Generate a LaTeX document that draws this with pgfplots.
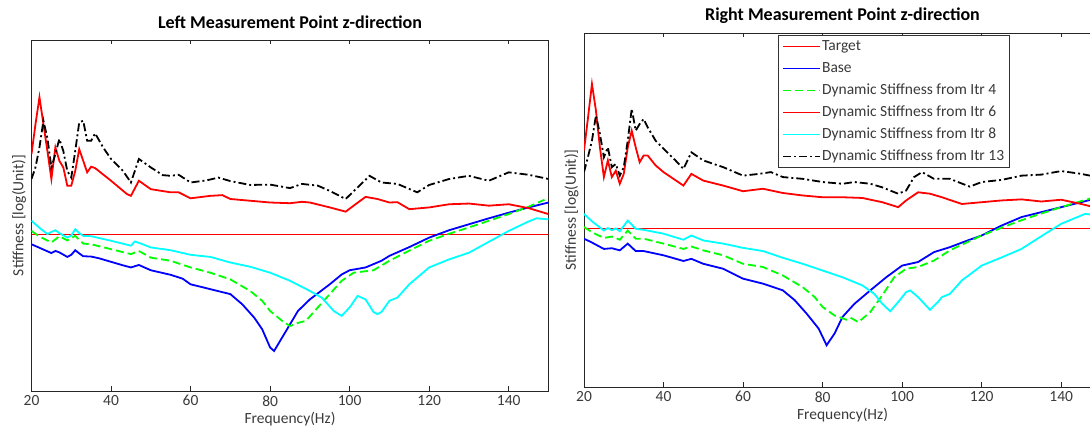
\documentclass[border=0pt]{standalone}
\usepackage{fontspec}
\setmainfont{Carlito}
\usepackage{pgfplots}
\pgfplotsset{compat=1.18}
\definecolor{lbl}{HTML}{3A3A3A}
\definecolor{cR}{RGB}{255,0,0}
\definecolor{cB}{RGB}{0,0,255}
\definecolor{cG}{RGB}{0,255,0}
\definecolor{cC}{RGB}{0,255,255}
\definecolor{cK}{RGB}{0,0,0}
\pgfplotsset{
  myaxis/.style={
    scale only axis, width=517pt,
    xmin=20, xmax=150, ymin=0, ymax=100,
    xtick={20,40,...,140}, ytick=\empty,
    tick align=inside, major tick length=4.5pt,
    axis line style={black!85, line width=0.8pt},
    every tick/.style={black!85, line width=0.8pt},
    /pgf/number format/assume math mode=true,
    tick label style={font=\fontsize{15.5}{18}\selectfont, text=lbl},
    xticklabel style={yshift=-1pt},
    label style={font=\fontsize{15.5}{18}\selectfont, text=lbl},
    xlabel={Frequency(Hz)},
    ylabel={Stiffness [log(Unit)]},
    xlabel style={yshift=1pt},
    ylabel style={yshift=2pt},
    title style={font=\bfseries\fontsize{18}{20}\selectfont, yshift=2pt},
    clip=true,
    legend image code/.code={\draw[#1] (0pt,0pt) -- (37pt,0pt);},
  },
  tgt/.style={draw=cR, color=cR, line width=1.2pt},
  base/.style={cB, line width=1.8pt},
  it4/.style={cG, line width=1.8pt, dash pattern=on 8pt off 4pt},
  it6/.style={cR, line width=1.8pt},
  it8/.style={cC, line width=1.8pt},
  it13/.style={cK, line width=1.8pt, dash pattern=on 8pt off 3pt on 2pt off 3pt},
}
\begin{document}
\begin{tikzpicture}[x=1pt,y=1pt]
% ---------------- Left ----------------
\begin{axis}[myaxis, at={(31.5pt,42pt)}, anchor=south west, height=351pt,
  title={Left Measurement Point z-direction}]
\addplot[tgt] coordinates {(20,44.6)(150,44.6)};
\addplot[base] coordinates {(20,41.8)(22,40.8)(24,39.8)(25,39.3)(26,39.9)(27,39.5)(29,38.2)(30,38.8)(31,40.1)(32,39.2)(33,38.4)(35,38.3)(37,37.8)(40,36.8)(43,35.8)(45,35.2)(47,35.9)(50,34.4)(55,33.1)(58,32.0)(60,30.4)(65,29.0)(70,27.6)(73,24.7)(76,20.9)(78,17.6)(80,12.4)(81,11.4)(83,15.2)(85,19.0)(87,22.8)(90,26.1)(95,30.4)(98,33.2)(100,34.4)(104,35.2)(108,37.1)(110,38.5)(115,41.0)(120,43.7)(125,45.8)(130,47.5)(135,49.2)(140,50.8)(145,52.3)(150,53.7)};
\addplot[it4] coordinates {(20,45.6)(22,44.0)(25,42.3)(27,44.1)(29,42.9)(31,44.2)(33,42.0)(35,41.8)(40,40.4)(45,39.0)(47,39.9)(50,38.0)(55,37.1)(60,35.2)(65,33.7)(70,31.8)(75,28.5)(78,25.7)(80,22.8)(83,20.0)(85,18.5)(87,19.4)(89,20.0)(92,23.8)(95,27.6)(98,31.4)(101,33.7)(106,34.4)(110,37.1)(115,40.0)(120,42.8)(125,44.8)(130,46.6)(135,48.5)(140,50.4)(145,52.5)(149,54.5)};
\addplot[it6] coordinates {(20,67.5)(21,76.0)(22,83.7)(23,76.0)(24,68.4)(25,60.4)(26,69.4)(27,65.6)(28,63.7)(29,58.5)(30,58.5)(31,62.7)(32,68.9)(33,65.6)(34,62.3)(35,63.9)(36,63.5)(40,59.9)(44,56.1)(45,55.6)(47,59.9)(50,57.5)(55,56.6)(57,56.6)(60,54.9)(65,55.6)(68,55.8)(70,54.7)(75,54.2)(80,53.7)(85,53.5)(88,53.9)(90,53.7)(95,52.3)(99,51.1)(101,52.8)(104,55.3)(107,54.7)(110,53.7)(112,53.8)(115,51.8)(120,52.3)(125,53.2)(130,53.4)(135,52.8)(140,53.2)(145,52.1)(150,50.4)};
\addplot[it8] coordinates {(20,48.5)(22,46.5)(24,44.7)(25,45.3)(26,45.8)(27,45.0)(29,43.7)(30,44.3)(31,46.1)(32,45.0)(33,44.2)(35,44.1)(40,42.8)(45,41.4)(46,42.6)(48,41.8)(50,40.9)(55,40.1)(60,38.8)(65,38.2)(70,36.6)(75,35.4)(80,33.7)(85,31.4)(90,28.5)(93,26.6)(96,22.8)(98,21.4)(100,23.8)(102,27.1)(104,26.1)(106,22.5)(107,21.9)(108,22.5)(110,25.7)(112,26.6)(115,30.4)(120,35.2)(125,37.5)(130,39.4)(135,42.5)(140,45.6)(145,48.3)(147,49.2)(150,48.9)};
\addplot[it13] coordinates {(20,60.4)(21,63.7)(22,69.4)(23,77.0)(24,72.0)(25,63.7)(26,67.5)(27,71.8)(28,68.4)(29,62.7)(30,60.8)(31,68.4)(32,76.5)(33,77.0)(34,71.3)(35,71.3)(36,73.4)(38,69.4)(40,66.1)(43,62.7)(45,59.4)(47,66.1)(50,63.7)(53,61.5)(55,61.3)(57,61.6)(60,59.4)(64,60.0)(67,60.8)(70,59.8)(75,58.7)(80,58.8)(85,57.8)(88,59.0)(92,58.5)(95,57.0)(99,54.7)(102,58.0)(105,61.3)(108,59.4)(112,59.0)(117,56.6)(120,58.7)(125,60.4)(130,61.3)(135,59.9)(140,62.3)(145,61.6)(150,60.4)};
\end{axis}
% ---------------- Right ----------------
\begin{axis}[myaxis, at={(584pt,46pt)}, anchor=south west, height=354pt,
  title={Right Measurement Point z-direction},
  title style={yshift=-2pt},
  legend cell align=left,
  legend style={at={(0.375,0.994)}, anchor=north west, draw=black!80, line width=0.8pt,
    font=\fontsize{15.5}{18}\selectfont, text=lbl, inner xsep=4pt, inner ysep=2pt,
    row sep=4pt, nodes={inner sep=1pt, text height=12pt, text depth=4pt}}]
\addplot[tgt] coordinates {(20,44.7)(150,44.7)};
\addlegendentry{Target}
\addplot[base] coordinates {(20,41.9)(22,40.8)(25,39.0)(27,39.2)(29,38.6)(31,40.5)(33,38.4)(35,38.4)(40,37.2)(45,35.6)(47,36.2)(50,34.8)(55,33.4)(60,30.6)(65,29.2)(70,27.3)(73,24.5)(76,20.7)(79,16.5)(81,11.8)(83,15.1)(85,19.8)(88,23.5)(92,27.3)(96,31.0)(100,34.3)(104,35.3)(108,38.1)(112,39.5)(116,41.2)(120,42.8)(125,45.6)(130,48.0)(135,49.4)(140,50.8)(145,52.2)(150,53.6)};
\addlegendentry{Base}
\addplot[it4] coordinates {(20,45.2)(22,43.7)(25,42.1)(27,42.5)(29,41.6)(31,44.2)(33,41.9)(35,41.9)(40,40.5)(45,39.0)(47,39.7)(50,38.6)(55,37.2)(60,34.8)(65,33.9)(70,31.5)(75,28.2)(78,25.4)(80,22.6)(83,20.2)(86,19.0)(87,19.6)(89,18.3)(92,21.2)(95,25.9)(98,31.0)(101,33.4)(104,33.9)(108,35.7)(112,38.6)(116,40.7)(120,42.8)(125,45.0)(130,47.1)(135,49.0)(140,50.8)(145,52.5)(150,54.1)};
\addlegendentry{Dynamic Stiffness from Itr 4}
\addplot[it6] coordinates {(20,66.8)(21,76.0)(22,85.6)(23,78.1)(24,67.7)(25,59.3)(26,64.0)(27,59.3)(28,61.1)(29,57.4)(30,60.2)(31,67.7)(32,72.4)(33,67.7)(34,63.5)(35,65.4)(36,65.4)(38,62.6)(40,60.7)(45,56.9)(47,60.2)(50,58.3)(55,56.9)(60,55.3)(65,56.0)(70,54.8)(75,54.1)(80,53.6)(85,53.6)(90,53.4)(95,52.2)(99,50.8)(101,52.7)(104,55.0)(107,54.6)(110,53.6)(115,51.7)(120,52.2)(125,52.7)(130,53.0)(135,52.4)(140,52.9)(145,51.7)(150,50.3)};
\addlegendentry{Dynamic Stiffness from Itr 6}
\addplot[it8] coordinates {(20,48.9)(22,46.8)(25,44.2)(26,44.9)(27,44.3)(28,44.8)(29,44.0)(31,47.0)(33,44.7)(35,44.4)(40,43.3)(45,41.6)(47,42.8)(50,41.4)(55,40.5)(60,39.3)(65,38.4)(70,36.5)(75,34.8)(80,32.9)(85,31.0)(90,28.7)(93,26.3)(95,23.5)(97,21.4)(99,24.0)(101,26.8)(102,27.3)(104,25.4)(107,21.8)(109,24.0)(110,25.4)(112,26.3)(115,30.1)(120,34.3)(125,36.6)(130,39.0)(135,42.6)(140,46.1)(146,48.9)(150,48.4)};
\addlegendentry{Dynamic Stiffness from Itr 8}
\addplot[it13] coordinates {(20,60.7)(21,65.0)(22,69.6)(23,76.7)(24,71.5)(25,64.9)(26,67.7)(27,62.1)(28,63.0)(29,59.7)(30,62.1)(31,69.6)(32,78.6)(33,72.4)(34,74.3)(35,75.7)(36,73.4)(38,69.6)(40,67.3)(43,64.0)(45,61.6)(47,66.3)(50,64.0)(55,62.1)(60,59.7)(64,60.2)(67,60.7)(70,59.3)(75,58.8)(80,57.9)(85,57.4)(88,57.9)(92,57.4)(95,56.4)(99,54.6)(101,55.5)(103,59.3)(105,60.7)(108,58.8)(112,58.8)(117,56.6)(120,57.9)(125,58.5)(130,59.7)(135,60.0)(140,61.0)(145,60.2)(150,59.1)};
\addlegendentry{Dynamic Stiffness from Itr 13}
\end{axis}
\pgfresetboundingbox
\path[use as bounding box] (0pt,0pt) rectangle (1090pt,433pt);
\end{tikzpicture}
\end{document}
